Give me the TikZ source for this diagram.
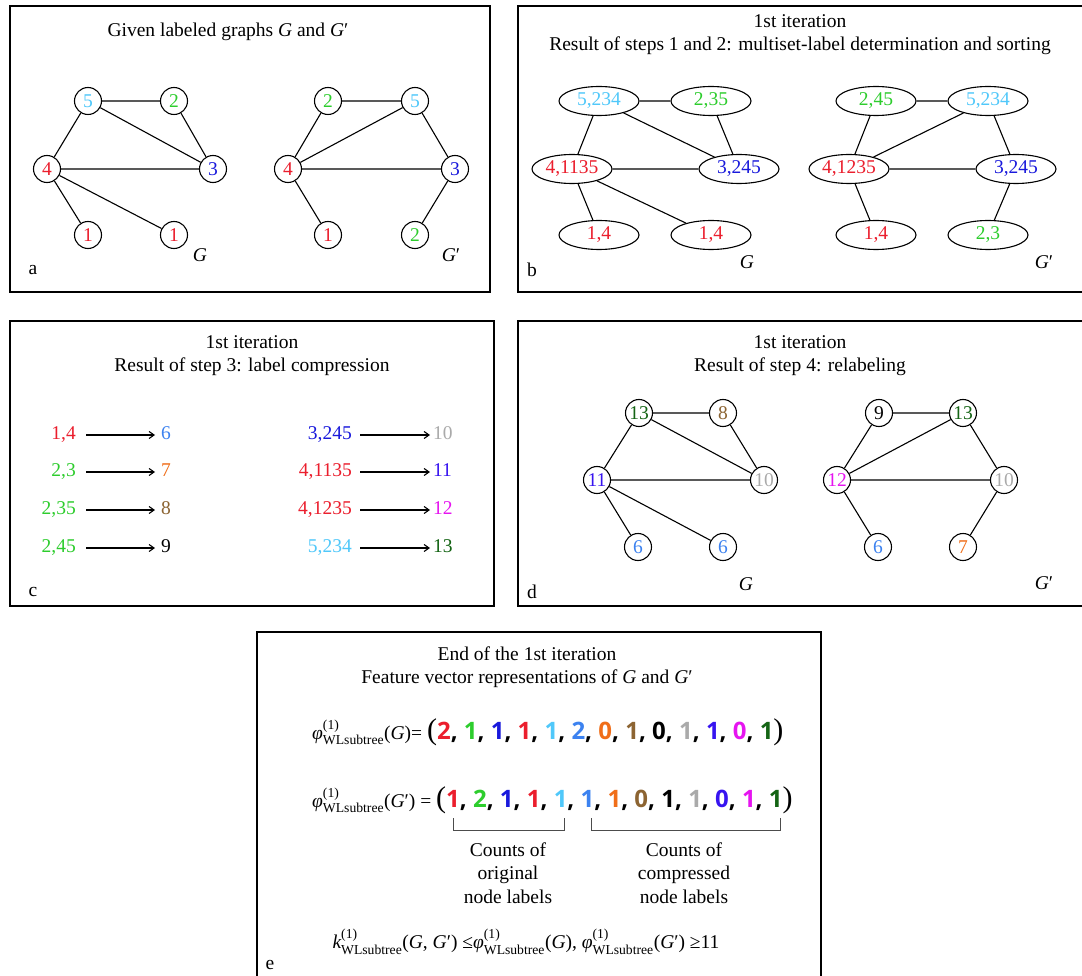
\documentclass[tikz,border=0pt]{standalone}
\usepackage{fontspec}
\usepackage{amsmath}
\setmainfont{Liberation Serif}
\newfontfamily\vecfont{Open Sans}
\usetikzlibrary{arrows.meta,shapes.geometric}
\definecolor{cR}{RGB}{235,30,45}
\definecolor{cG}{RGB}{45,205,45}
\definecolor{cB}{RGB}{25,25,220}
\definecolor{cC}{RGB}{80,200,250}
\definecolor{cSix}{RGB}{60,130,240}
\definecolor{cSev}{RGB}{240,110,25}
\definecolor{cEig}{RGB}{140,100,50}
\definecolor{cTen}{RGB}{170,170,170}
\definecolor{cEle}{RGB}{55,20,240}
\definecolor{cTwe}{RGB}{230,20,240}
\definecolor{cThi}{RGB}{20,100,20}
\newcommand{\wlf}[1]{$\textit{#1}^{\text{(1)}}_{\text{WLsubtree}}$}
\newcommand{\vd}[2]{\textcolor{#1}{#2}}
\newcommand{\bigpar}[1]{{\fontsize{30}{30}\selectfont #1}}
\begin{document}
\begin{tikzpicture}[x=1pt,y=-1pt,font=\fontsize{19.5}{23}\selectfont,
  panel/.style={draw,line width=1.2pt},
  cn/.style={circle,draw,line width=1.1pt,minimum size=27pt,inner sep=0pt},
  en/.style={ellipse,draw,line width=1.1pt,minimum width=80pt,minimum height=29pt,inner sep=0pt},
  ed/.style={line width=1.1pt},
  lab/.style={inner sep=0pt,text height=13pt,text depth=4pt},
  arr/.style={line width=1.1pt,-{Straight Barb[length=5pt,width=7pt]}},
  brk/.style={line width=1pt,draw=black!70},
  vec/.style={anchor=west,inner sep=0pt}]
\useasboundingbox (0,0) rectangle (1082,976);
\fill[white] (0,0) rectangle (1082,976);
% panels
\draw[panel] (10,6) rectangle (490,292);
\draw[panel] (518,6) rectangle (1095,292);
\draw[panel] (10,321) rectangle (494,606);
\draw[panel] (518,321) rectangle (1095,606);
\draw[panel] (257,632) rectangle (821,995);
% ---------- panel a
\node (ta) at (228,32) {Given labeled graphs \textit{G} and \textit{G}′};
\node[cn,text=cC] (a5) at (88,101) {5};
\node[cn,text=cG] (a2) at (174,101) {2};
\node[cn,text=cR] (a4) at (47,169) {4};
\node[cn,text=cB] (a3) at (213,169) {3};
\node[cn,text=cR] (a1) at (88,235) {1};
\node[cn,text=cR] (a1b) at (174,235) {1};
\draw[ed] (a5)--(a2) (a5)--(a4) (a5)--(a3) (a2)--(a3) (a4)--(a3) (a4)--(a1) (a4)--(a1b);
\node[cn,text=cG] (p2) at (328,101) {2};
\node[cn,text=cC] (p5) at (415,101) {5};
\node[cn,text=cR] (p4) at (288,169) {4};
\node[cn,text=cB] (p3) at (455,169) {3};
\node[cn,text=cR] (p1) at (328,235) {1};
\node[cn,text=cG] (p2b) at (415,235) {2};
\draw[ed] (p2)--(p5) (p2)--(p4) (p5)--(p4) (p5)--(p3) (p4)--(p3) (p4)--(p1) (p3)--(p2b);
\node (gA) at (200,255) {\textit{G}};
\node (gpA) at (451,255) {\textit{G}′};
\node (la) at (33,270) {a};
% ---------- panel b
\node[align=center] (tb) at (800,35) {1st iteration\\Result of steps 1 and 2: multiset-label determination and sorting};
\node[en,text=cC] (b5) at (599,101) {5,234};
\node[en,text=cG] (b2) at (711,101) {2,35};
\node[en,text=cR] (b4) at (572,169) {4,1135};
\node[en,text=cB] (b3) at (739,169) {3,245};
\node[en,text=cR] (b1) at (599,235) {1,4};
\node[en,text=cR] (b1b) at (711,235) {1,4};
\draw[ed] (b5)--(b2) (b5)--(b4) (b5)--(b3) (b2)--(b3) (b4)--(b3) (b4)--(b1) (b4)--(b1b);
\node[en,text=cG] (q2) at (876,101) {2,45};
\node[en,text=cC] (q5) at (988,101) {5,234};
\node[en,text=cR] (q4) at (849,169) {4,1235};
\node[en,text=cB] (q3) at (1016,169) {3,245};
\node[en,text=cR] (q1) at (876,235) {1,4};
\node[en,text=cG] (q2b) at (988,235) {2,3};
\draw[ed] (q2)--(q5) (q2)--(q4) (q5)--(q4) (q5)--(q3) (q4)--(q3) (q4)--(q1) (q3)--(q2b);
\node (gB) at (747,262) {\textit{G}};
\node (gpB) at (1044,262) {\textit{G}′};
\node (lb) at (532,270) {b};
% ---------- panel c
\node[align=center] (tc) at (252,356) {1st iteration\\Result of step 3: label compression};
\node[lab,anchor=east,text=cR] (c1) at (76,435) {1,4};
\node[lab,anchor=west,text=cSix] (d1) at (161,435) {6};
\node[lab,anchor=east,text=cG] (c2) at (76,472) {2,3};
\node[lab,anchor=west,text=cSev] (d2) at (161,472) {7};
\node[lab,anchor=east,text=cG] (c3) at (76,510) {2,35};
\node[lab,anchor=west,text=cEig] (d3) at (161,510) {8};
\node[lab,anchor=east,text=cG] (c4) at (76,548) {2,45};
\node[lab,anchor=west,text=black] (d4) at (161,548) {9};
\node[lab,anchor=east,text=cB] (c5) at (352,435) {3,245};
\node[lab,anchor=west,text=cTen] (d5) at (433,435) {10};
\node[lab,anchor=east,text=cR] (c6) at (352,472) {4,1135};
\node[lab,anchor=west,text=cEle] (d6) at (433,472) {11};
\node[lab,anchor=east,text=cR] (c7) at (352,510) {4,1235};
\node[lab,anchor=west,text=cTwe] (d7) at (433,510) {12};
\node[lab,anchor=east,text=cC] (c8) at (352,548) {5,234};
\node[lab,anchor=west,text=cThi] (d8) at (433,548) {13};
\foreach \i in {1,...,4}{\draw[arr,shorten <=10pt,shorten >=6pt] (c\i.east) -- (d\i.west);}
\foreach \i in {5,...,8}{\draw[arr,shorten <=8pt,shorten >=3pt] (c\i.east) -- (d\i.west);}
\node (lc) at (33,592) {c};
% ---------- panel d
\node[align=center] (td) at (800,356) {1st iteration\\Result of step 4: relabeling};
\node[cn,text=cThi] (r13) at (639,413) {13};
\node[cn,text=cEig] (r8) at (723,413) {8};
\node[cn,text=cEle] (r11) at (597,480) {11};
\node[cn,text=cTen] (r10) at (764,480) {10};
\node[cn,text=cSix] (r6) at (638,547) {6};
\node[cn,text=cSix] (r6b) at (723,547) {6};
\draw[ed] (r13)--(r8) (r13)--(r11) (r13)--(r10) (r8)--(r10) (r11)--(r10) (r11)--(r6) (r11)--(r6b);
\node[cn,text=black] (s9) at (879,413) {9};
\node[cn,text=cThi] (s13) at (963,413) {13};
\node[cn,text=cTwe] (s12) at (837,480) {12};
\node[cn,text=cTen] (s10) at (1004,480) {10};
\node[cn,text=cSix] (s6) at (878,547) {6};
\node[cn,text=cSev] (s7) at (963,547) {7};
\draw[ed] (s9)--(s13) (s9)--(s12) (s13)--(s12) (s13)--(s10) (s12)--(s10) (s12)--(s6) (s10)--(s7);
\node (gD) at (746,584) {\textit{G}};
\node (gpD) at (1044,583) {\textit{G}′};
\node (ld) at (532,592) {d};
% ---------- panel e
\node[align=center] (te) at (527,667) {End of the 1st iteration\\Feature vector representations of \textit{G} and \textit{G}′};
\node[vec] (v1) at (312,732) {\wlf{φ}(\textit{G})= \bigpar{(}{\vecfont\bfseries\fontsize{24}{24}\selectfont
 \vd{cR}{2}, \vd{cG}{1}, \vd{cB}{1}, \vd{cR}{1}, \vd{cC}{1}, \vd{cSix}{2}, \vd{cSev}{0}, \vd{cEig}{1}, 0, \vd{cTen}{1}, \vd{cEle}{1}, \vd{cTwe}{0}, \vd{cThi}{1}}\bigpar{)}};
\node[vec] (v2) at (312,800) {\wlf{φ}(\textit{G}′) = \bigpar{(}{\vecfont\bfseries\fontsize{24}{24}\selectfont
 \vd{cR}{1}, \vd{cG}{2}, \vd{cB}{1}, \vd{cR}{1}, \vd{cC}{1}, \vd{cSix}{1}, \vd{cSev}{1}, \vd{cEig}{0}, 1, \vd{cTen}{1}, \vd{cEle}{0}, \vd{cTwe}{1}, \vd{cThi}{1}}\bigpar{)}};
\draw[brk] (453,818) -- (453,830) -- (564,830) -- (564,818);
\draw[brk] (591,818) -- (591,830) -- (780,830) -- (780,818);
\node[align=center,font=\fontsize{19.5}{23.5}\selectfont] (n1) at (508,873) {Counts of\\original\\node labels};
\node[align=center,font=\fontsize{19.5}{23.5}\selectfont] (n2) at (684,873) {Counts of\\compressed\\node labels};
\node (fk) at (526,942) {\wlf{k}(\textit{G}, \textit{G}′) ≤\wlf{φ}(\textit{G}), \wlf{φ}(\textit{G}′) ≥11};
\node (le) at (270,965) {e};
\end{tikzpicture}
\end{document}
